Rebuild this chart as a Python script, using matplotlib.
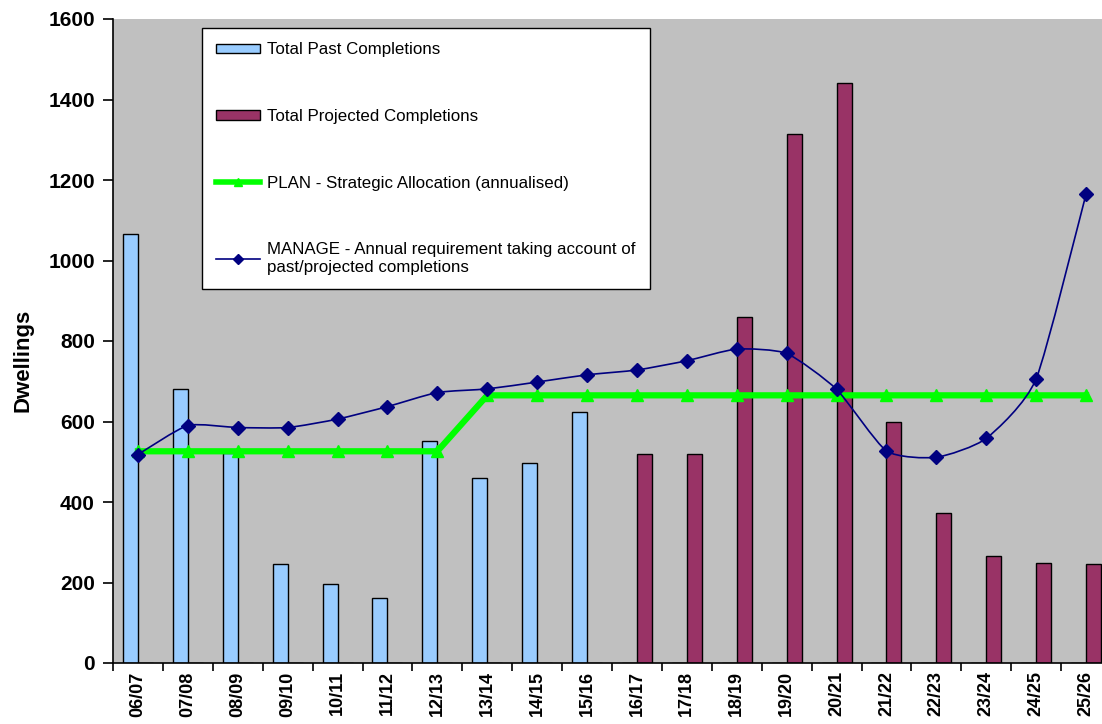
import numpy as np
import matplotlib.pyplot as plt
from matplotlib.patches import Patch, PathPatch
from matplotlib.lines import Line2D
from matplotlib.path import Path

plt.rcParams['font.family'] = ['Liberation Sans', 'DejaVu Sans']

# --- Data ---
years = ["06/07", "07/08", "08/09", "09/10", "10/11", "11/12", "12/13", "13/14", "14/15", "15/16",
         "16/17", "17/18", "18/19", "19/20", "20/21", "21/22", "22/23", "23/24", "24/25", "25/26"]
past = [1065, 681, 522, 245, 196, 161, 551, 459, 498, 624,
        0, 0, 0, 0, 0, 0, 0, 0, 0, 0]
projected = [0, 0, 0, 0, 0, 0, 0, 0, 0, 0,
             519, 519, 860, 1314, 1441, 598, 372, 266, 248, 245]
plan = [526, 526, 526, 526, 526, 526, 526, 665, 665, 665,
        665, 665, 665, 665, 665, 665, 665, 665, 665, 665]
manage = [518, 590, 585, 585, 606, 637, 672, 681, 698, 716,
          728, 751, 780, 769, 680, 527, 511, 558, 706, 1165]

x = np.arange(len(years))
bw = 0.3

fig = plt.figure(figsize=(11.02, 7.24), dpi=100)
ax = fig.add_axes([113 / 1102, 1 - 663 / 724, 998 / 1102, 644 / 724])
ax.set_facecolor('#C0C0C0')

ax.bar(x - bw / 2, past, width=bw, color='#99CCFF', edgecolor='black', linewidth=1.0, zorder=2)
ax.bar(x + bw / 2, projected, width=bw, color='#993366', edgecolor='black', linewidth=1.0, zorder=2)

ax.plot(x, plan, color='#00FF00', linewidth=4.5, marker='^', markersize=9,
        markeredgecolor='#00FF00', zorder=3)

# lightly smoothed manage line (bezier through the points)
pts = np.column_stack([x, manage]).astype(float)
verts = [pts[0]]
codes = [Path.MOVETO]
k = 10.0
for i in range(len(pts) - 1):
    p0 = pts[max(i - 1, 0)]
    p1 = pts[i]
    p2 = pts[i + 1]
    p3 = pts[min(i + 2, len(pts) - 1)]
    c1 = p1 + (p2 - p0) / k
    c2 = p2 - (p3 - p1) / k
    verts += [c1, c2, p2]
    codes += [Path.CURVE4] * 3
ax.add_patch(PathPatch(Path(verts, codes), facecolor='none', edgecolor='#000080',
                       linewidth=1.2, zorder=4))
ax.plot(x, manage, linestyle='none', marker='D', markersize=7, color='#000080', zorder=5)

ax.set_xlim(-0.5, len(years) - 0.5)
ax.set_ylim(0, 1600)
ax.set_yticks(np.arange(0, 1601, 200))
ax.set_xticks(x)
ax.set_xticklabels(years, rotation=90, fontweight='bold', fontsize=13)
ax.set_xticks(np.arange(-0.5, len(years), 1), minor=True)
ax.tick_params(axis='x', which='major', length=0, pad=6)
ax.tick_params(axis='x', which='minor', length=6, width=1.2, direction='out')
ax.tick_params(axis='y', length=7, width=1.2, direction='out', pad=6)
for lbl in ax.get_yticklabels():
    lbl.set_fontweight('bold')
    lbl.set_fontsize(15)

ax.spines['top'].set_visible(False)
ax.spines['right'].set_visible(False)
ax.spines['left'].set_linewidth(1.2)
ax.spines['bottom'].set_linewidth(1.2)

ax.set_ylabel('Dwellings', fontsize=16, fontweight='bold')
ax.yaxis.set_label_coords(-0.0792, 0.4705)

handles = [
    Patch(facecolor='#99CCFF', edgecolor='black'),
    Patch(facecolor='#993366', edgecolor='black'),
    Line2D([], [], color='#00FF00', linewidth=4, marker='^', markersize=6),
    Line2D([], [], color='#000080', linewidth=1.2, marker='D', markersize=5),
]
labels = ["Total Past Completions",
          "Total Projected Completions",
          "PLAN - Strategic Allocation (annualised)",
          "MANAGE - Annual requirement taking account of\npast/projected completions"]
leg = ax.legend(handles, labels, loc='upper left', bbox_to_anchor=(0.0892, 0.986),
                fontsize=12.2, frameon=True, fancybox=False, edgecolor='black',
                framealpha=1, handlelength=2.6, handleheight=0.5, handletextpad=0.4,
                labelspacing=3.05, borderpad=0.85, borderaxespad=0)
leg.get_frame().set_linewidth(1.0)

fig.savefig('out.png', dpi=100)
